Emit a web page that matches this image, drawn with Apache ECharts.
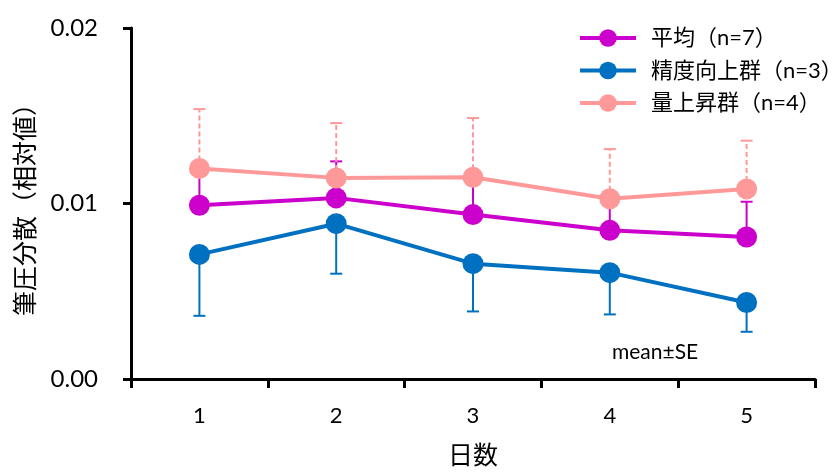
<!DOCTYPE html>
<html><head><meta charset="utf-8">
<script src="https://cdn.jsdelivr.net/npm/echarts@6/dist/echarts.min.js"></script>
<style>html,body{margin:0;padding:0;background:#fff}#c{width:838px;height:473px}</style>
</head><body><div id="c"></div>
<script>
const categories = ['1','2','3','4','5'];
const names = ['平均（n=7）','精度向上群（n=3）','量上昇群（n=4）'];
const meanAll = [0.0099, 0.01032, 0.00937, 0.00847, 0.00809];
const errAllUpper = [0.0117, 0.0124, 0.0117, 0.0105, 0.0101];
const meanAcc = [0.0071, 0.00885, 0.00657, 0.00606, 0.00436];
const errAccLower = [0.0036, 0.0060, 0.00385, 0.00368, 0.00269];
const meanAmt = [0.0120, 0.01146, 0.01149, 0.01027, 0.01083];
const errAmtUpper = [0.01538, 0.01458, 0.01487, 0.0131, 0.01358];
const yTicks = [0, 0.01, 0.02];

const colors = ['#CC00CC', '#0070C0', '#FF9999'];
const FONT = "Lato, 'Noto Sans CJK JP', sans-serif";

function errSeries(color, means, ends, dashed, z) {
  return {
    type: 'custom', z: z, silent: true,
    data: means.map((m, i) => [i, m, ends[i]]),
    encode: {x: 0, y: [1, 2]},
    renderItem: function (params, api) {
      const p0 = api.coord([api.value(0), api.value(1)]);
      const p1 = api.coord([api.value(0), api.value(2)]);
      const hw = 6;
      const style = {stroke: color, lineWidth: 2, lineDash: dashed ? [5, 3] : null};
      return {type: 'group', children: [
        {type: 'line', shape: {x1: p0[0], y1: p0[1], x2: p1[0], y2: p1[1]}, style: style},
        {type: 'line', shape: {x1: p1[0] - hw, y1: p1[1], x2: p1[0] + hw, y2: p1[1]}, style: {stroke: color, lineWidth: 2}}
      ]};
    }
  };
}
function lineSeries(name, color, data, z) {
  return {
    type: 'line', name: name, data: data, z: z,
    symbol: 'circle', symbolSize: 21,
    lineStyle: {color: color, width: 4},
    itemStyle: {color: color},
    emphasis: {disabled: true}
  };
}

const chart = echarts.init(document.getElementById('c'));
chart.setOption({
  animation: false,
  grid: {left: 131, right: 23, top: 28, bottom: 93, containLabel: false},
  legend: {
    orient: 'vertical', left: 573, top: 22, itemGap: 10.5,
    itemWidth: 56, itemHeight: 22,
    data: names,
    lineStyle: {width: 4},
    textStyle: {fontFamily: FONT, fontSize: 22, color: '#000', padding: [0, 0, 0, 10]}
  },
  xAxis: {
    type: 'category', data: categories, boundaryGap: true,
    name: '日数', nameLocation: 'middle', nameGap: 64,
    nameTextStyle: {fontFamily: FONT, fontSize: 25, color: '#000'},
    axisLine: {lineStyle: {color: '#000', width: 3}},
    axisTick: {show: true, length: 9, lineStyle: {color: '#000', width: 3}},
    axisLabel: {fontFamily: FONT, fontSize: 22, color: '#000', margin: 26},
    splitLine: {show: false}
  },
  yAxis: {
    type: 'value', min: yTicks[0], max: yTicks[2], interval: yTicks[1],
    name: '筆圧分散（相対値）', nameLocation: 'middle', nameGap: 93, nameRotate: 90,
    nameTextStyle: {fontFamily: FONT, fontSize: 25, color: '#000'},
    axisLine: {show: true, lineStyle: {color: '#000', width: 3}},
    axisTick: {show: true, length: 8, lineStyle: {color: '#000', width: 3}},
    axisLabel: {fontFamily: FONT, fontSize: 24, color: '#000', margin: 33, formatter: v => v.toFixed(2)},
    splitLine: {show: false}
  },
  graphic: [{type: 'text', left: 612, top: 342, style: {text: 'mean±SE', font: '21px ' + FONT, fill: '#000'}}],
  series: [
    errSeries(colors[1], meanAcc, errAccLower, false, 2),
    lineSeries(names[1], colors[1], meanAcc, 3),
    errSeries(colors[0], meanAll, errAllUpper, false, 4),
    lineSeries(names[0], colors[0], meanAll, 5),
    errSeries(colors[2], meanAmt, errAmtUpper, true, 6),
    lineSeries(names[2], colors[2], meanAmt, 7)
  ]
});
</script></body></html>
